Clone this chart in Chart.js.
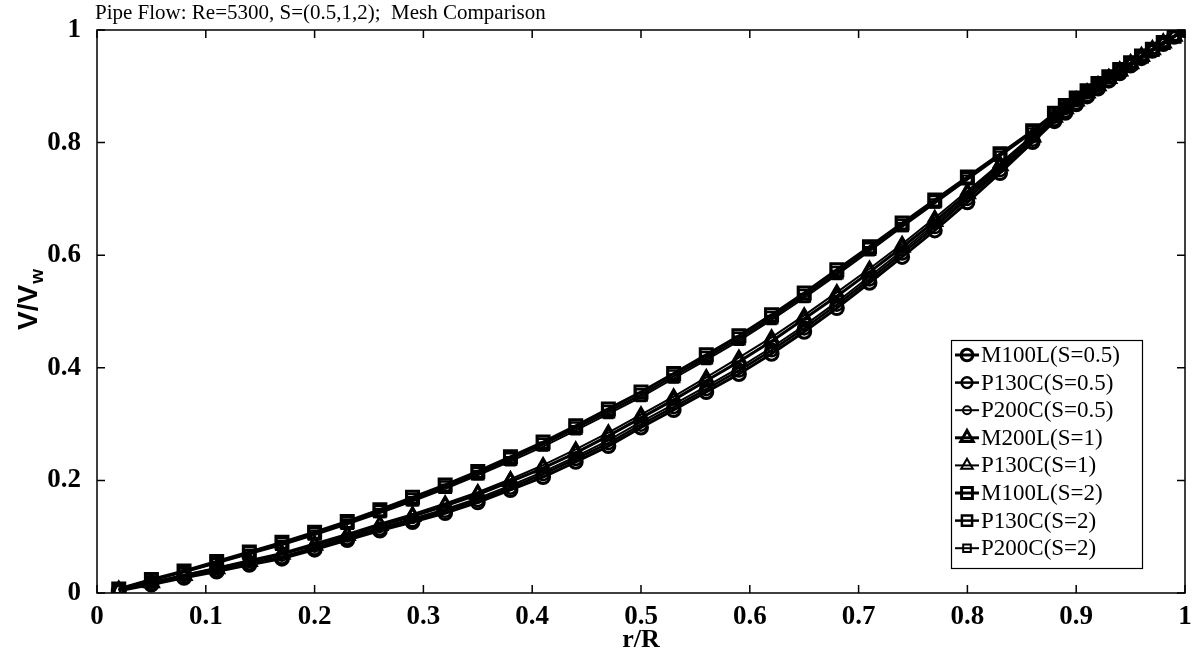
<!DOCTYPE html>
<html>
<head>
<meta charset="utf-8">
<script src="https://cdn.jsdelivr.net/npm/chart.js@4.4.0/dist/chart.umd.min.js"></script>
<style>
  html, body { margin: 0; padding: 0; background: #fff; }
  #wrap { width: 1197px; height: 659px; }
</style>
</head>
<body>
<div id="wrap"><canvas id="pipeChart" width="1197" height="659"></canvas></div>
<script>
// r/R sample positions
const rR = [0.02, 0.05, 0.08, 0.11, 0.14, 0.17, 0.20, 0.23, 0.26, 0.29, 0.32, 0.35, 0.38, 0.41,
    0.44, 0.47, 0.50, 0.53, 0.56, 0.59, 0.62, 0.65, 0.68, 0.71, 0.74, 0.77, 0.80, 0.83, 0.86,
    0.88, 0.89, 0.90, 0.91, 0.92, 0.93, 0.94, 0.95, 0.96, 0.97, 0.98, 0.99, 1.00];

// V/Vw for each run
const m100lS05 = [0.004, 0.015, 0.027, 0.038, 0.050, 0.061, 0.077, 0.094, 0.111, 0.126, 0.142, 0.161, 0.183, 0.206,
    0.233, 0.261, 0.294, 0.325, 0.357, 0.389, 0.425, 0.464, 0.506, 0.551, 0.597, 0.644, 0.694, 0.746, 0.801,
    0.838, 0.853, 0.868, 0.882, 0.896, 0.910, 0.923, 0.937, 0.950, 0.963, 0.975, 0.988, 1.000];
const p130cS05 = [0.005, 0.016, 0.028, 0.040, 0.052, 0.063, 0.079, 0.097, 0.114, 0.129, 0.146, 0.165, 0.187, 0.211,
    0.238, 0.266, 0.299, 0.330, 0.362, 0.395, 0.431, 0.470, 0.512, 0.557, 0.603, 0.650, 0.700, 0.751, 0.805,
    0.841, 0.856, 0.870, 0.884, 0.898, 0.911, 0.925, 0.938, 0.951, 0.964, 0.976, 0.988, 1.000];
const p200cS05 = [0.005, 0.017, 0.029, 0.041, 0.053, 0.065, 0.081, 0.099, 0.116, 0.132, 0.149, 0.168, 0.191, 0.215,
    0.242, 0.271, 0.304, 0.335, 0.367, 0.400, 0.436, 0.475, 0.517, 0.562, 0.608, 0.655, 0.704, 0.755, 0.808,
    0.843, 0.858, 0.872, 0.886, 0.899, 0.913, 0.926, 0.939, 0.952, 0.965, 0.977, 0.989, 1.000];
const m200lS1 = [0.005, 0.018, 0.031, 0.043, 0.056, 0.069, 0.085, 0.102, 0.120, 0.136, 0.155, 0.175, 0.198, 0.222,
    0.249, 0.279, 0.311, 0.343, 0.377, 0.411, 0.447, 0.487, 0.527, 0.570, 0.614, 0.660, 0.709, 0.759, 0.810,
    0.845, 0.860, 0.874, 0.888, 0.901, 0.914, 0.927, 0.940, 0.953, 0.965, 0.977, 0.989, 1.000];
const p130cS1 = [0.006, 0.019, 0.032, 0.045, 0.058, 0.071, 0.088, 0.105, 0.123, 0.140, 0.159, 0.179, 0.202, 0.227,
    0.255, 0.285, 0.317, 0.349, 0.383, 0.418, 0.454, 0.493, 0.534, 0.576, 0.620, 0.666, 0.714, 0.763, 0.813,
    0.847, 0.862, 0.876, 0.889, 0.902, 0.915, 0.928, 0.941, 0.954, 0.966, 0.978, 0.989, 1.000];
const m100lS2 = [0.007, 0.024, 0.039, 0.056, 0.073, 0.090, 0.108, 0.127, 0.148, 0.170, 0.192, 0.216, 0.242, 0.268,
    0.297, 0.327, 0.357, 0.390, 0.423, 0.457, 0.494, 0.533, 0.574, 0.615, 0.657, 0.698, 0.739, 0.780, 0.821,
    0.852, 0.866, 0.879, 0.892, 0.905, 0.917, 0.930, 0.942, 0.954, 0.966, 0.978, 0.989, 1.000];
const p130cS2 = [0.007, 0.023, 0.038, 0.054, 0.071, 0.087, 0.105, 0.124, 0.145, 0.166, 0.188, 0.212, 0.238, 0.264,
    0.293, 0.322, 0.352, 0.385, 0.418, 0.452, 0.489, 0.528, 0.569, 0.611, 0.653, 0.695, 0.736, 0.778, 0.820,
    0.851, 0.865, 0.878, 0.891, 0.904, 0.916, 0.929, 0.941, 0.953, 0.965, 0.977, 0.989, 1.000];
const p200cS2 = [0.006, 0.022, 0.037, 0.053, 0.069, 0.085, 0.103, 0.122, 0.142, 0.163, 0.185, 0.209, 0.234, 0.260,
    0.289, 0.318, 0.348, 0.381, 0.414, 0.448, 0.485, 0.524, 0.565, 0.607, 0.650, 0.692, 0.734, 0.776, 0.818,
    0.850, 0.864, 0.877, 0.890, 0.903, 0.915, 0.928, 0.940, 0.952, 0.964, 0.976, 0.988, 1.000];

const seriesNames = ['M100L(S=0.5)', 'P130C(S=0.5)', 'P200C(S=0.5)', 'M200L(S=1)', 'P130C(S=1)',
    'M100L(S=2)', 'P130C(S=2)', 'P200C(S=2)'];
const seriesValues = [m100lS05, p130cS05, p200cS05, m200lS1, p130cS1, m100lS2, p130cS2, p200cS2];

const xTicks = [0, 0.1, 0.2, 0.3, 0.4, 0.5, 0.6, 0.7, 0.8, 0.9, 1];
const yTicks = [0, 0.2, 0.4, 0.6, 0.8, 1];

const titleText = 'Pipe Flow: Re=5300, S=(0.5,1,2);  Mesh Comparison';

// marker look per run
const styles = [
    { shape: 'circle', r: 6.5, w: 3 },
    { shape: 'circle', r: 6, w: 2.5 },
    { shape: 'circle', r: 4.5, w: 2 },
    { shape: 'triangle', r: 8, w: 3 },
    { shape: 'triangle', r: 7.5, w: 2 },
    { shape: 'rect', r: 8.5, w: 3 },
    { shape: 'rect', r: 8, w: 2.5 },
    { shape: 'rect', r: 6, w: 2 }
];

const datasets = seriesNames.map((name, i) => ({
    label: name,
    data: rR.map((x, j) => ({ x: x, y: seriesValues[i][j] })),
    borderColor: '#000',
    borderWidth: styles[i].w,
    pointStyle: styles[i].shape,
    pointRadius: styles[i].r,
    pointBorderWidth: styles[i].w,
    pointBorderColor: '#000',
    pointBackgroundColor: 'rgba(0,0,0,0)',
    tension: 0,
    fill: false
}));

const fmt = v => Number(v.toFixed(1)).toString();

// frame, inward ticks, title, axis labels and legend
const decorPlugin = {
    id: 'decor',
    afterDraw(chart) {
        const ctx = chart.ctx;
        const area = chart.chartArea;
        const xs = chart.scales.x, ys = chart.scales.y;
        ctx.save();
        ctx.strokeStyle = '#000';
        ctx.lineWidth = 1.5;
        ctx.strokeRect(area.left, area.top, area.right - area.left, area.bottom - area.top);

        ctx.beginPath();
        xTicks.forEach(v => {
            const px = xs.getPixelForValue(v);
            ctx.moveTo(px, area.bottom); ctx.lineTo(px, area.bottom - 8);
            ctx.moveTo(px, area.top); ctx.lineTo(px, area.top + 8);
        });
        yTicks.forEach(v => {
            const py = ys.getPixelForValue(v);
            ctx.moveTo(area.left, py); ctx.lineTo(area.left + 8, py);
            ctx.moveTo(area.right, py); ctx.lineTo(area.right - 8, py);
        });
        ctx.stroke();

        // title
        ctx.fillStyle = '#000';
        ctx.font = '21px "Liberation Serif"';
        ctx.textAlign = 'left';
        ctx.textBaseline = 'alphabetic';
        ctx.fillText(titleText, 95, 19);

        // x label
        ctx.font = 'bold 26px "Liberation Serif"';
        ctx.textAlign = 'center';
        ctx.textBaseline = 'middle';
        ctx.fillText('r/R', (area.left + area.right) / 2, 640);

        // y label with subscript
        ctx.save();
        ctx.translate(29, 300);
        ctx.rotate(-Math.PI / 2);
        ctx.font = 'bold 28px "Liberation Sans"';
        const mainW = ctx.measureText('V/V').width;
        ctx.font = 'bold 19px "Liberation Sans"';
        const subW = ctx.measureText('w').width;
        const startX = -(mainW + subW) / 2;
        ctx.textAlign = 'left';
        ctx.textBaseline = 'middle';
        ctx.font = 'bold 28px "Liberation Sans"';
        ctx.fillText('V/V', startX, 0);
        ctx.font = 'bold 19px "Liberation Sans"';
        ctx.fillText('w', startX + mainW + 1, 9);
        ctx.restore();

        // legend box
        const lx = 951, ly = 340, lw = 191, lh = 228;
        ctx.fillStyle = '#fff';
        ctx.fillRect(lx, ly, lw, lh);
        ctx.lineWidth = 1.2;
        ctx.strokeRect(lx + 0.5, ly + 0.5, lw, lh);
        ctx.font = '23px "Liberation Serif"';
        ctx.textAlign = 'left';
        ctx.textBaseline = 'middle';
        chart.data.datasets.forEach((ds, i) => {
            const cy = 355 + i * 27.6;
            ctx.strokeStyle = '#000';
            ctx.lineWidth = ds.borderWidth;
            ctx.beginPath();
            ctx.moveTo(955, cy); ctx.lineTo(979, cy);
            ctx.stroke();
            ctx.fillStyle = 'rgba(0,0,0,0)';
            Chart.helpers.drawPoint(ctx, {
                pointStyle: ds.pointStyle,
                radius: ds.pointRadius * 0.9,
                borderWidth: ds.pointBorderWidth,
                rotation: 0
            }, 967, cy);
            ctx.fillStyle = '#000';
            ctx.fillText(ds.label, 981, cy + 1);
        });
        ctx.restore();
    }
};

new Chart(document.getElementById('pipeChart'), {
    type: 'line',
    data: { datasets: datasets },
    options: {
        responsive: false,
        animation: false,
        devicePixelRatio: 1,
        layout: { padding: { top: 30, right: 12, left: 0, bottom: 0 } },
        plugins: {
            legend: { display: false },
            title: { display: false },
            tooltip: { enabled: false }
        },
        scales: {
            x: {
                type: 'linear',
                min: 0,
                max: 1,
                afterBuildTicks: scale => { scale.ticks = xTicks.map(v => ({ value: v })); },
                afterFit: scale => { scale.height = 66; },
                grid: { display: false },
                border: { display: false },
                ticks: {
                    color: '#000',
                    padding: 0,
                    maxRotation: 0,
                    autoSkip: false,
                    font: { family: 'Liberation Serif', size: 27, weight: 'bold' },
                    callback: v => fmt(v)
                }
            },
            y: {
                type: 'linear',
                min: 0,
                max: 1,
                afterBuildTicks: scale => { scale.ticks = yTicks.map(v => ({ value: v })); },
                afterFit: scale => { scale.width = 97; },
                grid: { display: false },
                border: { display: false },
                ticks: {
                    color: '#000',
                    padding: 8,
                    autoSkip: false,
                    font: { family: 'Liberation Serif', size: 27, weight: 'bold' },
                    callback: v => fmt(v)
                }
            }
        }
    },
    plugins: [decorPlugin]
});
</script>
</body>
</html>
